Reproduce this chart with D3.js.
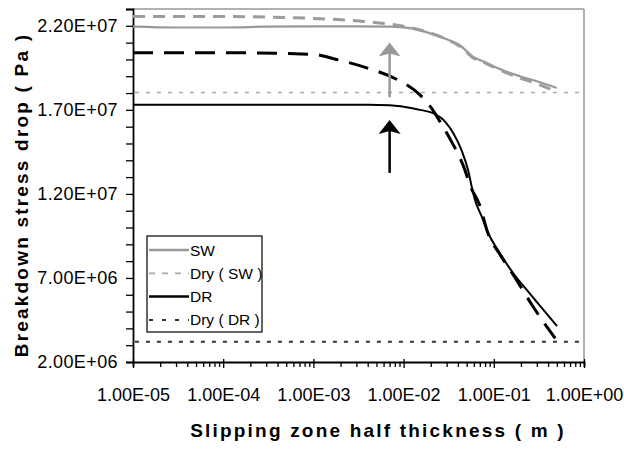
<!DOCTYPE html>
<html><head><meta charset="utf-8">
<script src="https://cdn.jsdelivr.net/npm/d3@7"></script>
<style>body{margin:0;background:#fff}svg{display:block}text{font-family:"Liberation Sans",Arial,sans-serif}</style>
</head><body><svg id="c" width="624" height="450"></svg>
<script>
// ---- data ----
const xMajorTicks = [1e-5, 1e-4, 1e-3, 1e-2, 1e-1, 1];
const yMajorTicks = [2e6, 7e6, 1.2e7, 1.7e7, 2.2e7];

const swX = [1e-5, 3e-5, 1e-4, 3e-4, 1e-3, 3e-3, 7e-3, 0.0118, 0.019, 0.03, 0.043, 0.059, 0.083, 0.108, 0.195, 0.3, 0.5];
const swY = [2.195e7, 2.19e7, 2.19e7, 2.195e7, 2.197e7, 2.197e7, 2.195e7, 2.186e7, 2.158e7, 2.12e7, 2.08e7, 2.015e7, 1.98e7, 1.95e7, 1.90e7, 1.87e7, 1.83e7];

const swModX = [1e-5, 1e-4, 9e-4, 3.3e-3, 7e-3, 0.0118, 0.019, 0.03, 0.043, 0.059, 0.083, 0.108, 0.195, 0.3, 0.48];
const swModY = [2.255e7, 2.255e7, 2.245e7, 2.228e7, 2.21e7, 2.19e7, 2.16e7, 2.12e7, 2.075e7, 2.01e7, 1.975e7, 1.945e7, 1.89e7, 1.855e7, 1.81e7];

const drX = [1e-5, 1e-4, 1e-3, 4e-3, 7e-3, 0.0125, 0.0152, 0.0213, 0.0288, 0.0356, 0.0441, 0.0521, 0.0569, 0.0619, 0.0735, 0.0869, 0.117, 0.164, 0.232, 0.502];
const drY = [1.73e7, 1.73e7, 1.73e7, 1.73e7, 1.727e7, 1.71e7, 1.70e7, 1.68e7, 1.63e7, 1.561e7, 1.457e7, 1.338e7, 1.243e7, 1.164e7, 1.065e7, 9.66e6, 8.47e6, 7.28e6, 6.29e6, 4.14e6];

const drModX = [1e-5, 1e-4, 1e-3, 1.8e-3, 3.9e-3, 8.5e-3, 0.0152, 0.0204, 0.0253, 0.034, 0.0372, 0.0478, 0.0542, 0.0695, 0.0869, 0.117, 0.164, 0.272, 0.48];
const drModY = [2.04e7, 2.04e7, 2.03e7, 2.0e7, 1.95e7, 1.88e7, 1.789e7, 1.71e7, 1.63e7, 1.511e7, 1.472e7, 1.343e7, 1.254e7, 1.135e7, 9.6e6, 8.4e6, 7.2e6, 5.3e6, 3.4e6];

const drySWValue = 1.803e7;
const dryDRValue = 3.21e6;
const dryX = [1.05e-5, 1];

const arrowX = 7e-3;
const greyArrow = [1.775e7, 2.1e7];
const blackArrow = [1.325e7, 1.64e7];

const legendLabels = ["SW", "Dry ( SW )", "DR", "Dry ( DR )"];

// ---- chart ----
const svg = d3.select("#c");
const L = 133, R = 584, T = 9, B = 362;
const x = d3.scaleLog().domain([1e-5, 1]).range([L, R]);
const y = d3.scaleLinear().domain([2e6, 2.3e7]).range([B, T]);

function sci(v){
  const e = Math.floor(Math.log10(v) + 1e-9);
  const m = v / Math.pow(10, e);
  return m.toFixed(2) + "E" + (e < 0 ? "-" : "+") + String(Math.abs(e)).padStart(2, "0");
}

// top & right borders
svg.append("line").attr("x1", L).attr("x2", R).attr("y1", T).attr("y2", T).attr("stroke", "#999").attr("stroke-width", 1.5);
svg.append("line").attr("x1", R).attr("x2", R).attr("y1", T).attr("y2", B).attr("stroke", "#999").attr("stroke-width", 1.5);

// minor ticks
const yMinor = d3.range(2e6, 2.3e7 + 1, 1e6);
const xMinor = [];
for (let e = -5; e < 0; e++) for (let k = 1; k < 10; k++) xMinor.push(k * Math.pow(10, e));
xMinor.push(1);

const ya = svg.append("g").attr("transform", `translate(${L},0)`)
  .call(d3.axisLeft(y).tickValues(yMinor).tickSize(7).tickPadding(8)
    .tickFormat(d => yMajorTicks.some(t => Math.abs(t - d) < 1) ? sci(d) : ""));
const xa = svg.append("g").attr("transform", `translate(0,${B})`)
  .call(d3.axisBottom(x).tickValues(xMinor).tickSize(5).tickPadding(21)
    .tickFormat(d => xMajorTicks.some(t => Math.abs(Math.log10(t) - Math.log10(d)) < 1e-6) ? sci(d) : ""));
[ya, xa].forEach(g => {
  g.select(".domain").attr("stroke", "#000").attr("stroke-width", 1.8);
  g.selectAll(".tick line").attr("stroke", "#000").attr("stroke-width", 1.3);
  g.selectAll("text").attr("font-size", 18).attr("fill", "#000").attr("font-family", '"Liberation Sans",Arial,sans-serif');
});
ya.selectAll("text").attr("letter-spacing", 0.4);
xa.selectAll(".tick").filter(d => xMajorTicks.some(t => Math.abs(Math.log10(t) - Math.log10(d)) < 1e-6))
  .select("line").attr("y1", -3).attr("y2", 6);

// lines
const line = d3.line().x(d => x(d[0])).y(d => y(d[1])).curve(d3.curveMonotoneX);
const z = (a, b) => a.map((v, i) => [v, b[i]]);

const g = svg.append("g");
g.append("path").datum(dryX.map(v => [v, drySWValue])).attr("d", line)
  .attr("fill", "none").attr("stroke", "#aaa").attr("stroke-width", 1.5).attr("stroke-dasharray", "4,7");
g.append("path").datum(dryX.map(v => [v, dryDRValue])).attr("d", line)
  .attr("fill", "none").attr("stroke", "#333").attr("stroke-width", 2).attr("stroke-dasharray", "4,7");

g.append("path").datum(z(swX, swY)).attr("d", line)
  .attr("fill", "none").attr("stroke", "#999").attr("stroke-width", 2.2);
g.append("path").datum(z(swModX, swModY)).attr("d", line)
  .attr("fill", "none").attr("stroke", "#9c9c9c").attr("stroke-width", 3).attr("stroke-dasharray", "12,8");
g.append("path").datum(z(drX, drY)).attr("d", line)
  .attr("fill", "none").attr("stroke", "#000").attr("stroke-width", 2);
g.append("path").datum(z(drModX, drModY)).attr("d", line)
  .attr("fill", "none").attr("stroke", "#000").attr("stroke-width", 3).attr("stroke-dasharray", "20,11");

// arrows
function arrow(vals, color){
  const ax = x(arrowX), y0 = y(vals[0]), y1 = y(vals[1]);
  svg.append("line").attr("x1", ax).attr("x2", ax).attr("y1", y0).attr("y2", y1 + 8)
    .attr("stroke", color).attr("stroke-width", 2.5);
  svg.append("path").attr("d", `M${ax},${y1} L${ax + 11},${y1 + 14} L${ax},${y1 + 11} L${ax - 11},${y1 + 14} Z`)
    .attr("fill", color);
}
arrow(greyArrow, "#999");
arrow(blackArrow, "#000");

// legend
const lg = svg.append("g").attr("transform", "translate(147,236)");
lg.append("rect").attr("width", 115).attr("height", 96).attr("fill", "#fff").attr("stroke", "#000").attr("stroke-width", 1.2);
const styles = [
  {c: "#999", w: 2.5, d: null},
  {c: "#aaa", w: 1.8, d: "6,7"},
  {c: "#000", w: 2.5, d: null},
  {c: "#333", w: 2, d: "4,9"}
];
legendLabels.forEach((t, i) => {
  const yy = 14 + i * 23.3;
  lg.append("line").attr("x1", 2).attr("x2", 42).attr("y1", yy).attr("y2", yy)
    .attr("stroke", styles[i].c).attr("stroke-width", styles[i].w).attr("stroke-dasharray", styles[i].d);
  lg.append("text").attr("x", 43).attr("y", yy + 5.5).attr("font-size", 15.5).text(t);
});

// axis titles
svg.append("text").attr("x", 378).attr("y", 437).attr("text-anchor", "middle")
  .attr("font-size", 19).attr("font-weight", "bold").attr("letter-spacing", 2.2)
  .text("Slipping zone half thickness ( m )");
svg.append("text").attr("transform", "translate(28,195) rotate(-90)").attr("text-anchor", "middle")
  .attr("font-size", 19).attr("font-weight", "bold").attr("letter-spacing", 2.2)
  .text("Breakdown stress drop ( Pa )");
</script></body></html>
